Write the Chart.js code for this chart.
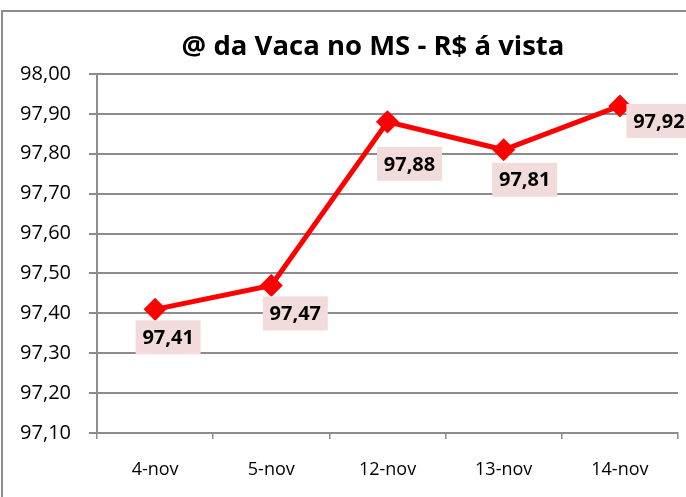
<!DOCTYPE html>
<html>
<head>
<meta charset="utf-8">
<script src="https://cdn.jsdelivr.net/npm/chart.js@4.4.0/dist/chart.umd.min.js"></script>
<style>
  html, body { margin: 0; padding: 0; background: #fff; }
  #wrap { position: relative; width: 686px; height: 497px; overflow: hidden; }
  #frame { position: absolute; left: 1px; top: 10px; width: 720px; height: 520px; border: 2px solid #8c8c8c; box-sizing: border-box; }
  #c { position: absolute; left: 0; top: 0; }
</style>
</head>
<body>
<div id="wrap">
  <div id="frame"></div>
  <canvas id="c" width="686" height="497"></canvas>
</div>
<script>
// dados do gráfico
const categories = ['4-nov', '5-nov', '12-nov', '13-nov', '14-nov'];
const prices = [97.41, 97.47, 97.88, 97.81, 97.92];
const yTicks = [97.10, 97.20, 97.30, 97.40, 97.50, 97.60, 97.70, 97.80, 97.90, 98.00];
const chartTitle = '@ da Vaca no MS - R$ á vista';

const fmt = v => Number(v).toFixed(2).replace('.', ',');

// título desenhado à mão (centralizado como no Excel)
const titlePlugin = {
  id: 'titlePlugin',
  afterDraw(chart) {
    const ctx = chart.ctx;
    ctx.save();
    ctx.font = 'bold 27.5px "Open Sans"';
    ctx.fillStyle = '#000';
    ctx.textAlign = 'center';
    ctx.textBaseline = 'alphabetic';
    ctx.fillText(chartTitle, 373, 55);
    ctx.restore();
  }
};

// rótulos com fundo rosado, abaixo e à direita do ponto
const labelOffsets = [[13, 28], [24, 28], [22, 42], [21, 30], [39, 15]];
const valueLabels = {
  id: 'valueLabels',
  afterDatasetsDraw(chart) {
    const ctx = chart.ctx;
    const meta = chart.getDatasetMeta(0);
    ctx.save();
    ctx.font = 'bold 20px "Open Sans"';
    ctx.textAlign = 'center';
    ctx.textBaseline = 'middle';
    meta.data.forEach((pt, i) => {
      const txt = fmt(prices[i]);
      const [dx, dy] = labelOffsets[i];
      const cx = pt.x + dx, cy = pt.y + dy;
      const w = 65, h = 34;
      ctx.fillStyle = '#f2dcdb';
      ctx.fillRect(cx - w / 2, cy - h / 2, w, h);
      ctx.fillStyle = '#000';
      ctx.fillText(txt, cx, cy + 1);
    });
    ctx.restore();
  }
};

new Chart(document.getElementById('c'), {
  type: 'line',
  data: {
    labels: categories,
    datasets: [{
      data: prices,
      borderColor: '#ff0000',
      backgroundColor: '#ff0000',
      borderWidth: 5,
      pointStyle: 'rectRot',
      pointRadius: 8,
      pointBackgroundColor: '#ff0000',
      pointBorderColor: '#ff0000',
      tension: 0
    }]
  },
  options: {
    responsive: false,
    animation: false,
    layout: { autoPadding: false, padding: { left: 0, right: 8, top: 74, bottom: 0 } },
    plugins: {
      legend: { display: false },
      tooltip: { enabled: false },
      title: { display: false }
    },
    scales: {
      x: {
        offset: true,
        grid: { offset: true, drawOnChartArea: false, drawTicks: true, tickLength: 6, color: '#8c8c8c', lineWidth: 1.5 },
        border: { color: '#8c8c8c', width: 2 },
        ticks: { color: '#000', font: { family: 'Open Sans', size: 18 }, padding: 20 },
        afterFit: s => { s.height = 64; s.paddingLeft = 0; s.paddingRight = 0; }
      },
      y: {
        min: 97.1,
        max: 98.0,
        afterBuildTicks: s => { s.ticks = yTicks.map(v => ({ value: v })); },
        grid: { color: '#8c8c8c', lineWidth: 2, tickLength: 8 },
        border: { color: '#8c8c8c', width: 2 },
        ticks: { color: '#000', font: { family: 'Open Sans', size: 20 }, padding: 18, callback: v => fmt(v) },
        afterFit: s => { s.width = 97; s.paddingTop = 0; s.paddingBottom = 0; }
      }
    }
  },
  plugins: [valueLabels, titlePlugin]
});
</script>
</body>
</html>
